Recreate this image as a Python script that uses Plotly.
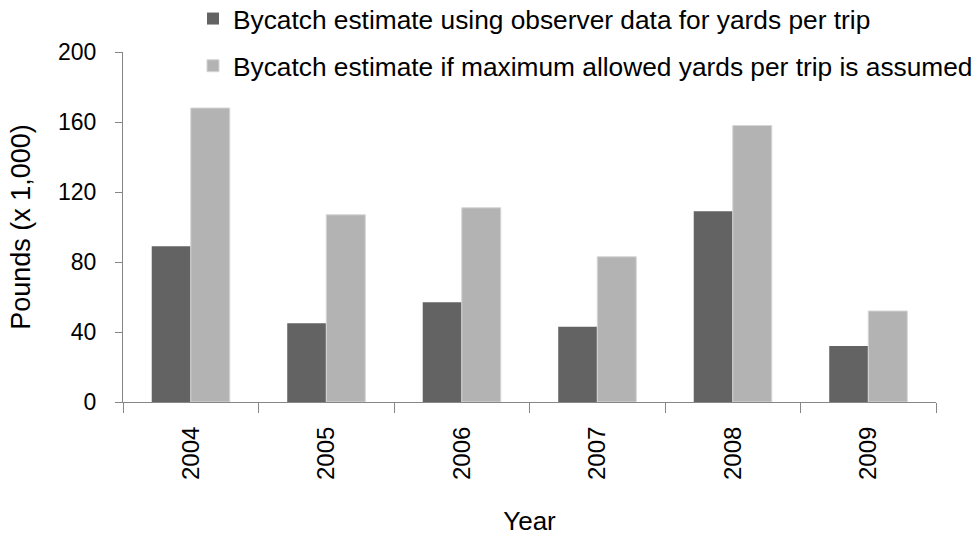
import plotly.graph_objects as go

years = ["2004", "2005", "2006", "2007", "2008", "2009"]
observer_yards = [89, 45, 57, 43, 109, 32]
max_allowed_yards = [168, 107, 111, 83, 158, 52]

series_names = [
    "Bycatch estimate using observer data for yards per trip",
    "Bycatch estimate if maximum allowed yards per trip is assumed",
]

FONT = "Liberation Sans, Arial, sans-serif"
AXIS_GREY = "#868686"

fig = go.Figure()
fig.add_trace(go.Bar(
    x=years, y=observer_yards, name=series_names[0], legendgroup="obs",
    marker=dict(color="#636363", line=dict(color="#636363", width=0)),
))
fig.add_trace(go.Bar(
    x=years, y=max_allowed_yards, name=series_names[1], legendgroup="max",
    marker=dict(color="#b3b3b3", line=dict(color="#d6d6d6", width=1)),
))

fig.update_layout(
    width=978, height=536,
    margin=dict(l=123, r=42, t=52, b=134, autoexpand=False),
    paper_bgcolor="white", plot_bgcolor="white",
    font=dict(family=FONT, size=24, color="black"),
    barmode="group", bargap=0.424, bargroupgap=0,
    legend=dict(
        x=0.0861, y=1.163, xanchor="left", yanchor="top",
        orientation="v", tracegroupgap=10,
        font=dict(size=26.3), bgcolor="rgba(0,0,0,0)",
        itemwidth=30,
    ),
    xaxis=dict(
        type="category", tickangle=-90, tickson="boundaries",
        ticks="outside", ticklen=10, tickcolor=AXIS_GREY,
        showline=True, linecolor=AXIS_GREY, linewidth=1,
        showgrid=False, mirror=False, ticklabelstandoff=14,
        title=dict(text="Year", standoff=35, font=dict(size=26)),
        tickfont=dict(size=24),
    ),
    yaxis=dict(
        range=[0, 200], tickvals=[0, 40, 80, 120, 160, 200],
        ticks="outside", ticklen=7, tickcolor=AXIS_GREY,
        showline=True, linecolor=AXIS_GREY, linewidth=1,
        showgrid=False, zeroline=False, ticklabelstandoff=14,
        title=dict(text="Pounds (x 1,000)", standoff=19, font=dict(size=27)),
        tickfont=dict(size=23),
    ),
)

fig.write_html("out.html")
